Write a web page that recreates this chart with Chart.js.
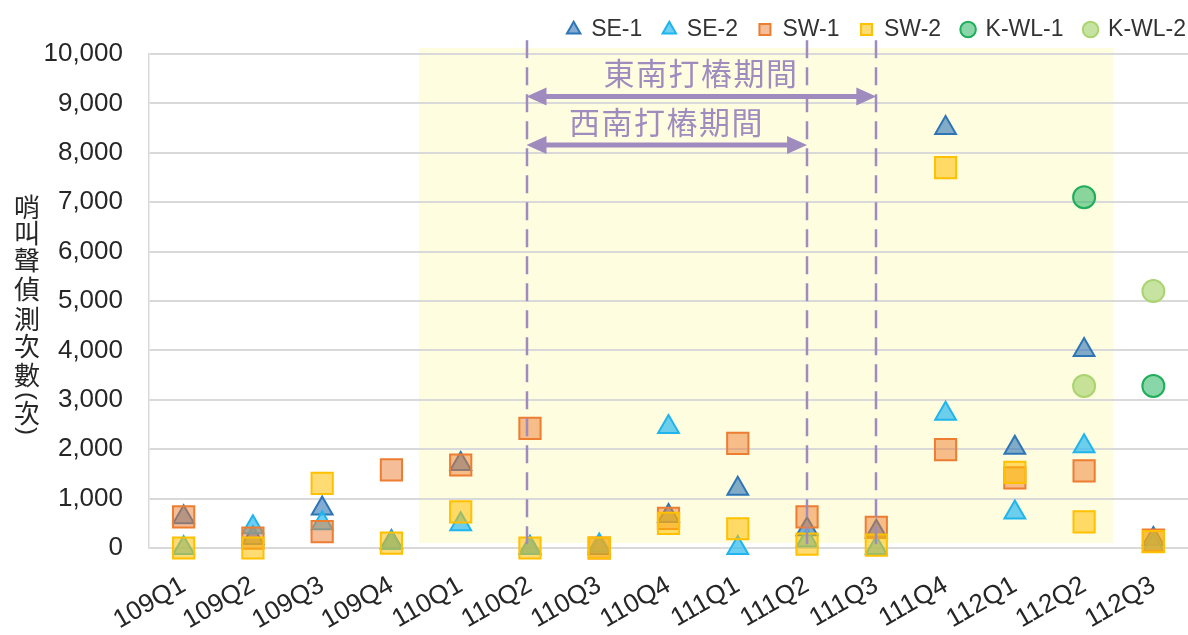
<!DOCTYPE html>
<html><head><meta charset="utf-8">
<script src="https://cdn.jsdelivr.net/npm/chart.js@4.4.0/dist/chart.umd.min.js"></script>
<style>html,body{margin:0;padding:0;background:#fff;}#wrap{width:1188px;height:635px;position:relative;}</style>
</head><body><div id="wrap"><canvas id="c" width="1188" height="635"></canvas></div>
<script>
const categories = ['109Q1','109Q2','109Q3','109Q4','110Q1','110Q2','110Q3','110Q4','111Q1','111Q2','111Q3','111Q4','112Q1','112Q2','112Q3'];
const se1  = [620, 200, 800, 120, 1700, 0, 0, 650, 1200, 380, 330, 8500, 2030, 4010, 180];
const se2  = [0, 420, 500, 100, 480, 0, 50, 2450, 0, 150, 0, 2720, 720, 2060, 50];
const sw1  = [630, 200, 330, 1580, 1680, 2420, 0, 600, 2120, 630, 420, 1990, 1420, 1560, 160];
const sw2  = [0, 0, 1310, 100, 730, 0, 0, 500, 390, 80, 60, 7700, 1530, 530, 130];
const kwl1 = [null, null, null, null, null, null, null, null, null, null, null, null, null, 7100, 3280];
const kwl2 = [null, null, null, null, null, null, null, null, null, null, null, null, null, 3280, 5200];
const yTicksMax = 10000;
const yTitleChars = ['哨','叫','聲','偵','測','次','數','(','次',')'];
// annotation definitions (category index / value units)
const shadeBand = {fromIndex: 3.4, toIndex: 13.42, fromValue: 100, toValue: 10120};
const periodLines = [4.95, 9.0, 10.0];
const periods = [
  {label: '東南打樁期間', from: 4.95, to: 10.0, arrowValue: 9140, labelIndex: 7.47, labelValue: 9615},
  {label: '西南打樁期間', from: 4.95, to: 9.0, arrowValue: 8158, labelIndex: 6.97, labelValue: 8623}
];

const FONT = '"Liberation Sans", "Noto Sans CJK TC", sans-serif';
const CJK = '"Noto Sans CJK TC", sans-serif';
const PURPLE = '#a08bbf';

const annotationPlugin = {
  id: 'annot',
  afterLayout(chart) {
    if (chart.legend) {
      chart.legend.left += 19; chart.legend.right += 19;
      chart.legend.top -= 3; chart.legend.bottom -= 3;
    }
  },
  beforeDraw(chart) {
    const {ctx, scales: {x, y}} = chart;
    const x0 = x.getPixelForValue(shadeBand.fromIndex), x1 = x.getPixelForValue(shadeBand.toIndex);
    const y0 = y.getPixelForValue(shadeBand.toValue), y1 = y.getPixelForValue(shadeBand.fromValue);
    ctx.save();
    ctx.fillStyle = '#fefde0';
    ctx.fillRect(x0, y0, x1 - x0, y1 - y0);
    ctx.restore();
  },
  afterDatasetsDraw(chart) {
    const {ctx, scales: {x, y}} = chart;
    ctx.save();
    ctx.strokeStyle = PURPLE;
    ctx.lineWidth = 2.5;
    ctx.setLineDash([18, 9]);
    const top = y.getPixelForValue(10280), bot = y.getPixelForValue(-60);
    periodLines.forEach(v => {
      const px = Math.round(x.getPixelForValue(v));
      ctx.beginPath(); ctx.moveTo(px, top); ctx.lineTo(px, bot); ctx.stroke();
    });
    ctx.setLineDash([]);
    periods.forEach(p => {
      const xa = x.getPixelForValue(p.from), xb = x.getPixelForValue(p.to);
      const ya = y.getPixelForValue(p.arrowValue);
      const hl = 20, hw = 9;
      ctx.strokeStyle = PURPLE; ctx.fillStyle = PURPLE; ctx.lineWidth = 5;
      ctx.beginPath(); ctx.moveTo(xa + hl - 2, ya); ctx.lineTo(xb - hl + 2, ya); ctx.stroke();
      ctx.beginPath(); ctx.moveTo(xa, ya); ctx.lineTo(xa + hl, ya - hw); ctx.lineTo(xa + hl, ya + hw); ctx.closePath(); ctx.fill();
      ctx.beginPath(); ctx.moveTo(xb, ya); ctx.lineTo(xb - hl, ya - hw); ctx.lineTo(xb - hl, ya + hw); ctx.closePath(); ctx.fill();
      ctx.font = '31px ' + CJK;
      try { ctx.letterSpacing = '1.5px'; } catch (e) {}
      ctx.textAlign = 'center'; ctx.textBaseline = 'middle';
      ctx.fillText(p.label, x.getPixelForValue(p.labelIndex), y.getPixelForValue(p.labelValue));
    });
    ctx.restore();
  },
  afterDraw(chart) {
    const {ctx} = chart;
    ctx.save();
    ctx.fillStyle = '#262626';
    ctx.font = '26px ' + CJK;
    ctx.textAlign = 'center'; ctx.textBaseline = 'middle';
    const cx = 27;
    const ys = [207, 233, 260, 289, 319, 346, 375, 396, 413, 431];
    yTitleChars.forEach((ch, i) => {
      if (ch === '(' || ch === ')') {
        ctx.save();
        ctx.translate(cx, ys[i]);
        ctx.rotate(Math.PI / 2);
        ctx.font = '24px ' + FONT;
        ctx.fillText(ch, 0, 0);
        ctx.restore();
      } else {
        ctx.fillText(ch, cx, ys[i]);
      }
    });
    ctx.restore();
  }
};

function ds(label, data, style, radius, fill, border, order) {
  return {label, data, pointStyle: style, pointRadius: radius, pointHoverRadius: radius,
    backgroundColor: fill, borderColor: border, borderWidth: 2, pointBorderWidth: 2,
    showLine: false, clip: false, order};
}

new Chart(document.getElementById('c'), {
  type: 'line',
  data: {
    labels: categories,
    datasets: [
      ds('SE-1', se1, 'triangle', 12, 'rgba(46,117,182,0.6)', '#2e75b6', 6),
      ds('SE-2', se2, 'triangle', 12, 'rgba(60,190,240,0.75)', '#1fb5ec', 5),
      ds('SW-1', sw1, 'rect', 15, 'rgba(237,125,49,0.5)', '#ed7d31', 4),
      ds('SW-2', sw2, 'rect', 15, 'rgba(255,192,0,0.55)', '#ffc000', 3),
      ds('K-WL-1', kwl1, 'circle', 11, 'rgba(40,180,99,0.55)', '#1fae5a', 2),
      ds('K-WL-2', kwl2, 'circle', 11, 'rgba(169,212,111,0.65)', '#a9d46f', 1)
    ]
  },
  options: {
    responsive: false, animation: false, events: [],
    layout: {autoPadding: false, padding: {left: 0, right: 0, top: -7, bottom: 0}},
    plugins: {
      legend: {position: 'top', align: 'end',
        labels: {usePointStyle: true, boxWidth: 12, boxHeight: 11, padding: 21, color: '#333',
          font: {size: 23, family: FONT},
          sort: (a, b) => a.datasetIndex - b.datasetIndex}},
      tooltip: {enabled: false}
    },
    scales: {
      x: {offset: true, grid: {display: false}, border: {display: false},
        afterFit(scale) { scale.paddingLeft = 0; scale.paddingRight = 0; scale.height = 87; },
        ticks: {autoSkip: false, minRotation: 30, maxRotation: 30, labelOffset: 0, color: '#262626',
          font: {size: 26, family: FONT}, padding: 14}},
      y: {min: 0, max: yTicksMax,
        afterFit(scale) { scale.width = 149; scale.paddingTop = 54; scale.paddingBottom = 0; },
        ticks: {stepSize: 1000, padding: 26, color: '#262626', font: {size: 26, family: FONT},
          callback: v => v.toLocaleString('en-US')},
        grid: {color: '#d9d9d9', lineWidth: 2, drawTicks: false},
        border: {display: true, color: '#d9d9d9', width: 1.5}}
    }
  },
  plugins: [annotationPlugin]
});
</script></body></html>
